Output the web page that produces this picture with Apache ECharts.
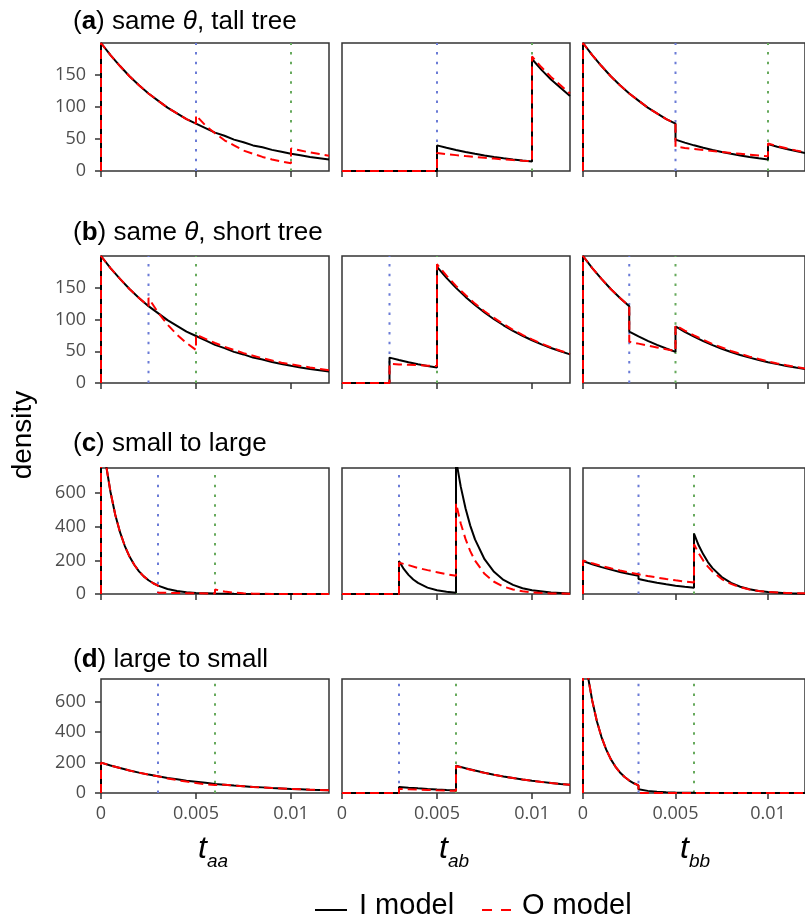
<!DOCTYPE html>
<html lang="en">
<head>
  <meta charset="UTF-8">
  <title>Density panels</title>
  <script src="https://cdn.jsdelivr.net/npm/echarts@6/dist/echarts.min.js"></script>
  <style>
    body { margin: 0; background: #fff; }
    #chart { width: 805px; height: 923px; }
  </style>
</head>
<body>
  <div id="chart"></div>
  <script>
    // x ticks, y ticks and vertical marker positions per row
    const xTicks = [0, 0.005, 0.01];
    const yTicksAB = [0, 50, 100, 150];
    const yTicksCD = [0, 200, 400, 600];
    const yMax = [200, 200, 750, 750];
    const blueLines = [0.005, 0.0025, 0.003, 0.003];
    const greenLines = [0.01, 0.005, 0.006, 0.006];

    const rowTitles = [
      '({b|a}) same {i|θ}, tall tree',
      '({b|b}) same {i|θ}, short tree',
      '({b|c}) small to large',
      '({b|d}) large to small'
    ];
    const colSubs = ['aa', 'ab', 'bb'];
    const legendNames = ['I model', 'O model'];

    // (a) same theta, tall tree
    const a_aa_I = [[0,0],[0,200],[0.0005,181],[0.001,164],[0.0015,148],[0.002,134],[0.0025,121],[0.003,110],[0.0035,99],[0.004,90],[0.0045,81],[0.005,74],[0.0055,67],[0.006,60],[0.0065,55],[0.007,49],[0.0075,45],[0.008,40],[0.0085,37],[0.009,33],[0.0095,30],[0.01,27],[0.0105,24.5],[0.011,22],[0.0115,20],[0.012,18]];
    const a_aa_O = [[0,0],[0,200],[0.0005,181],[0.001,164],[0.0015,148],[0.002,134],[0.0025,121],[0.003,110],[0.0035,99],[0.004,90],[0.0045,81],[0.005,74],[0.005,87],[0.0055,71],[0.006,59],[0.0065,48],[0.007,40],[0.0075,32],[0.008,27],[0.0085,22],[0.009,18],[0.0095,15],[0.01,12],[0.01,35],[0.0105,32],[0.011,29],[0.0115,26.5],[0.012,24]];
    const a_ab_I = [[0,0],[0.005,0],[0.005,40],[0.0055,36.2],[0.006,32.7],[0.0065,29.6],[0.007,26.8],[0.0075,24.3],[0.008,22],[0.0085,19.9],[0.009,18],[0.0095,16.3],[0.01,14.7],[0.01,175],[0.0105,158],[0.011,143],[0.0115,130],[0.012,117]];
    const a_ab_O = [[0,0],[0.005,0],[0.005,28],[0.0055,26.3],[0.006,24.8],[0.0065,23.3],[0.007,21.9],[0.0075,20.6],[0.008,19.4],[0.0085,18.2],[0.009,17.1],[0.0095,16.1],[0.01,15.2],[0.01,179],[0.0105,162],[0.011,147],[0.0115,134],[0.012,121]];
    const a_bb_I = [[0,0],[0,200],[0.0005,181],[0.001,164],[0.0015,148],[0.002,134],[0.0025,121],[0.003,110],[0.0035,99],[0.004,90],[0.0045,81],[0.005,74],[0.005,49],[0.0055,44.3],[0.006,40.1],[0.0065,36.3],[0.007,32.8],[0.0075,29.7],[0.008,26.9],[0.0085,24.3],[0.009,22],[0.0095,19.9],[0.01,18],[0.01,42],[0.0105,38],[0.011,34.4],[0.0115,31.1],[0.012,28.2]];
    const a_bb_O = [[0,0],[0,200],[0.0005,181],[0.001,164],[0.0015,148],[0.002,134],[0.0025,121],[0.003,110],[0.0035,99],[0.004,90],[0.0045,81],[0.005,74],[0.005,38],[0.0055,36.1],[0.006,34.4],[0.0065,32.7],[0.007,31.1],[0.0075,29.6],[0.008,28.1],[0.0085,26.8],[0.009,25.5],[0.0095,24.2],[0.01,23],[0.01,43],[0.0105,39],[0.011,35.5],[0.0115,32.2],[0.012,29.3]];

    // (b) same theta, short tree
    const b_aa_I = [[0,0],[0,200],[0.0005,181],[0.001,164],[0.0015,148],[0.002,134],[0.0025,121],[0.003,110],[0.0035,99],[0.004,90],[0.0045,81],[0.005,74],[0.0055,67],[0.006,60],[0.0065,55],[0.007,49],[0.0075,45],[0.008,40],[0.0085,37],[0.009,33],[0.0095,30],[0.01,27],[0.0105,24.5],[0.011,22],[0.0115,20],[0.012,18]];
    const b_aa_O = [[0,0],[0,200],[0.0005,181],[0.001,164],[0.0015,148],[0.002,134],[0.0025,121],[0.0025,134],[0.003,111],[0.0035,92],[0.004,76],[0.0045,63],[0.005,52],[0.005,76],[0.0055,69.5],[0.006,63],[0.0065,57],[0.007,52],[0.0075,47],[0.008,43],[0.0085,39],[0.009,35.5],[0.0095,32],[0.01,29.5],[0.0105,26.8],[0.011,24.5],[0.0115,22.3],[0.012,20]];
    const b_ab_I = [[0,0],[0.0025,0],[0.0025,40],[0.003,36.2],[0.0035,32.7],[0.004,29.6],[0.0045,26.8],[0.005,24.3],[0.005,183],[0.0055,165.6],[0.006,149.8],[0.0065,135.6],[0.007,122.7],[0.0075,111],[0.008,100.4],[0.0085,90.9],[0.009,82.2],[0.0095,74.4],[0.01,67.3],[0.0105,60.9],[0.011,55.1],[0.0115,49.9],[0.012,45.1]];
    const b_ab_O = [[0,0],[0.0025,0],[0.0025,30],[0.003,29.3],[0.0035,28.7],[0.004,28],[0.0045,27.3],[0.005,26.6],[0.005,187],[0.0055,169],[0.006,153],[0.0065,138.5],[0.007,125],[0.0075,113],[0.008,102.5],[0.0085,92.7],[0.009,83.8],[0.0095,75.8],[0.01,68.6],[0.0105,62],[0.011,56],[0.0115,50.7],[0.012,45.9]];
    const b_bb_I = [[0,0],[0,200],[0.0005,181],[0.001,164],[0.0015,148],[0.002,134],[0.0025,121],[0.0025,81],[0.003,73.3],[0.0035,66.3],[0.004,60],[0.0045,54.3],[0.005,49.1],[0.005,89],[0.0055,80.5],[0.006,72.9],[0.0065,66],[0.007,59.7],[0.0075,54],[0.008,48.9],[0.0085,44.2],[0.009,40],[0.0095,36.2],[0.01,32.8],[0.0105,29.7],[0.011,26.8],[0.0115,24.3],[0.012,22]];
    const b_bb_O = [[0,0],[0,200],[0.0005,181],[0.001,164],[0.0015,148],[0.002,134],[0.0025,121],[0.0025,65],[0.003,62],[0.0035,59],[0.004,56],[0.0045,53],[0.005,50.5],[0.005,91],[0.0055,82.5],[0.006,75],[0.0065,68],[0.007,61.5],[0.0075,56],[0.008,50.5],[0.0085,46],[0.009,41.5],[0.0095,37.7],[0.01,34],[0.0105,30.8],[0.011,28],[0.0115,25.3],[0.012,23]];

    // (c) small to large
    const c_aa_I = [[0,0],[0,1000],[0.00025,779],[0.0005,607],[0.00075,472],[0.001,368],[0.00125,287],[0.0015,223],[0.00175,174],[0.002,135],[0.00225,105],[0.0025,82],[0.00275,64],[0.003,50],[0.0035,30],[0.004,18],[0.0045,11],[0.005,6.7],[0.006,2.5],[0.007,0.9],[0.008,0.3],[0.01,0],[0.012,0]];
    const c_aa_O = [[0,0],[0,1000],[0.00025,779],[0.0005,607],[0.00075,472],[0.001,368],[0.00125,287],[0.0015,223],[0.00175,174],[0.002,135],[0.00225,105],[0.0025,82],[0.00275,64],[0.003,50],[0.003,8],[0.004,6],[0.005,4],[0.006,3],[0.006,27],[0.0065,15],[0.007,8],[0.0075,4],[0.008,2],[0.009,0.5],[0.01,0],[0.012,0]];
    const c_ab_I = [[0,0],[0.003,0],[0.003,197],[0.00325,149],[0.0035,114],[0.00375,86],[0.004,66],[0.0045,38],[0.005,22],[0.0055,13],[0.006,7],[0.006,800],[0.00625,639],[0.0065,510],[0.00675,407],[0.007,325],[0.0075,207],[0.008,132],[0.0085,84],[0.009,54],[0.0095,34],[0.01,22],[0.011,9],[0.012,3.6]];
    const c_ab_O = [[0,0],[0.003,0],[0.003,186],[0.0035,172],[0.004,155],[0.0045,142],[0.005,130],[0.0055,118],[0.006,108],[0.006,540],[0.00625,420],[0.0065,328],[0.00675,255],[0.007,199],[0.0075,120],[0.008,73],[0.0085,44],[0.009,27],[0.0095,16],[0.01,10],[0.011,3.6],[0.012,1.3]];
    const c_bb_I = [[0,0],[0,196],[0.0005,177],[0.001,160],[0.0015,145],[0.002,131],[0.0025,119],[0.003,108],[0.003,89],[0.0035,77],[0.004,66.5],[0.0045,57.5],[0.005,49.5],[0.0055,43],[0.006,37],[0.006,360],[0.00625,290],[0.0065,236],[0.00675,190],[0.007,154],[0.0075,101],[0.008,66],[0.0085,43],[0.009,28],[0.0095,18],[0.01,12],[0.011,5],[0.012,2]];
    const c_bb_O = [[0,0],[0,200],[0.0005,183],[0.001,167],[0.0015,153],[0.002,140],[0.0025,128],[0.003,117],[0.0035,107],[0.004,98],[0.0045,89],[0.005,81.5],[0.0055,74.5],[0.006,68],[0.006,296],[0.00625,243],[0.0065,199],[0.00675,163],[0.007,133],[0.0075,89],[0.008,60],[0.0085,40],[0.009,27],[0.0095,18],[0.01,12],[0.011,6],[0.012,4]];

    // (d) large to small
    const d_aa_I = [[0,0],[0,200],[0.0005,181],[0.001,164],[0.0015,148],[0.002,134],[0.0025,121],[0.003,110],[0.0035,99],[0.004,90],[0.0045,81],[0.005,74],[0.0055,67],[0.006,60],[0.0065,55],[0.007,49],[0.0075,45],[0.008,40],[0.0085,37],[0.009,33],[0.0095,30],[0.01,27],[0.0105,24.5],[0.011,22],[0.0115,20],[0.012,18]];
    const d_aa_O = [[0,0],[0,200],[0.0005,181],[0.001,164],[0.0015,148],[0.002,134],[0.0025,121],[0.003,110],[0.0035,96],[0.004,85],[0.0045,75],[0.005,66],[0.0055,58],[0.006,52],[0.006,60],[0.0065,55],[0.007,49],[0.0075,45],[0.008,40],[0.0085,37],[0.009,33],[0.0095,30],[0.01,27],[0.0105,24.5],[0.011,22],[0.0115,20],[0.012,18]];
    const d_ab_I = [[0,0],[0.003,0],[0.003,40],[0.0035,35],[0.004,30.6],[0.0045,26.8],[0.005,23.5],[0.0055,20.5],[0.006,18],[0.006,180],[0.0065,162.9],[0.007,147.4],[0.0075,133.4],[0.008,120.7],[0.0085,109.2],[0.009,98.8],[0.0095,89.4],[0.01,80.9],[0.0105,73.2],[0.011,66.2],[0.0115,59.9],[0.012,54.2]];
    const d_ab_O = [[0,0],[0.003,0],[0.003,28],[0.0035,25],[0.004,22.2],[0.0045,19.8],[0.005,17.6],[0.0055,15.7],[0.006,14],[0.006,178],[0.0065,161.5],[0.007,146],[0.0075,132.3],[0.008,119.7],[0.0085,108.3],[0.009,98],[0.0095,88.7],[0.01,80.3],[0.0105,72.6],[0.011,65.7],[0.0115,59.5],[0.012,53.8]];
    const d_bb_I = [[0,0],[0,1000],[0.00025,779],[0.0005,607],[0.00075,472],[0.001,368],[0.00125,287],[0.0015,223],[0.00175,174],[0.002,135],[0.00225,105],[0.0025,82],[0.00275,64],[0.003,50],[0.003,24],[0.0035,14],[0.004,8],[0.0045,5],[0.005,3],[0.006,1],[0.008,0],[0.012,0]];
    const d_bb_O = [[0,0],[0,1000],[0.00025,779],[0.0005,607],[0.00075,472],[0.001,368],[0.00125,287],[0.0015,223],[0.00175,174],[0.002,135],[0.00225,105],[0.0025,82],[0.00275,64],[0.003,50],[0.003,0],[0.006,0],[0.006,2],[0.0065,0.5],[0.012,0]];

    const panelData = [
      [[a_aa_I, a_aa_O], [a_ab_I, a_ab_O], [a_bb_I, a_bb_O]],
      [[b_aa_I, b_aa_O], [b_ab_I, b_ab_O], [b_bb_I, b_bb_O]],
      [[c_aa_I, c_aa_O], [c_ab_I, c_ab_O], [c_bb_I, c_bb_O]],
      [[d_aa_I, d_aa_O], [d_ab_I, d_ab_O], [d_bb_I, d_bb_O]]
    ];

    // layout (px)
    const colLeft = [101, 342, 583];
    const colW = 228;
    const rowTop = [43, 256, 468, 679];
    const rowH = [128, 127, 126, 114];
    const titleY = [22, 233, 444, 660];

    const tickFont = 'Open Sans';
    const textFont = 'Liberation Sans';
    const blue = '#6a7bd6', green = '#66a95c';

    const grids = [], xAxes = [], yAxes = [], series = [], graphics = [];

    function vline(k, x, top, color) {
      return {
        type: 'line', xAxisIndex: k, yAxisIndex: k, z: 1, silent: true,
        data: [[x, 0], [x, top]], showSymbol: false, symbol: 'none', clip: true,
        lineStyle: { color: color, width: 2, type: [2.5, 7.2] }
      };
    }

    for (let r = 0; r < 4; r++) {
      for (let c = 0; c < 3; c++) {
        const k = grids.length;
        grids.push({
          left: colLeft[c], top: rowTop[r], width: colW, height: rowH[r],
          show: true, borderColor: '#333', borderWidth: 1.5, backgroundColor: 'transparent'
        });
        xAxes.push({
          type: 'value', gridIndex: k, min: 0, max: 0.012,
          axisLine: { show: false },
          splitLine: { show: false },
          axisTick: { show: true, length: 6, customValues: xTicks, lineStyle: { color: '#333', width: 1.5 } },
          axisLabel: {
            show: r === 3, customValues: xTicks, margin: 12,
            color: '#4d4d4d', fontSize: 18, fontFamily: tickFont
          }
        });
        const yt = r < 2 ? yTicksAB : yTicksCD;
        yAxes.push({
          type: 'value', gridIndex: k, min: 0, max: yMax[r],
          axisLine: { show: false },
          splitLine: { show: false },
          axisTick: { show: c === 0, length: 6, customValues: yt, lineStyle: { color: '#333', width: 1.5 } },
          axisLabel: {
            show: c === 0, customValues: yt, margin: 15,
            color: '#4d4d4d', fontSize: 18, fontFamily: tickFont
          }
        });
        // vertical dotted reference lines
        series.push(vline(k, blueLines[r], yMax[r], blue));
        series.push(vline(k, greenLines[r], yMax[r], green));

        const [iData, oData] = panelData[r][c];
        series.push({
          name: legendNames[0], type: 'line', xAxisIndex: k, yAxisIndex: k, data: iData,
          showSymbol: false, symbol: 'none', z: 2, clip: true,
          lineStyle: { color: '#000', width: 2 }
        });
        series.push({
          name: legendNames[1], type: 'line', xAxisIndex: k, yAxisIndex: k, data: oData,
          showSymbol: false, symbol: 'none', z: 3, clip: true,
          lineStyle: { color: '#ff0000', width: 2, type: [9, 5] }
        });
      }
      graphics.push({
        type: 'text', x: 73, y: titleY[r],
        style: {
          text: rowTitles[r], fill: '#000', verticalAlign: 'middle',
          font: '26px "' + textFont + '"',
          rich: {
            b: { fontWeight: 'bold', fontSize: 26, fontFamily: textFont, fill: '#000' },
            i: { fontStyle: 'italic', fontSize: 26, fontFamily: textFont, fill: '#000' }
          }
        }
      });
    }

    // x axis titles: t with italic subscript
    for (let c = 0; c < 3; c++) {
      const cx = colLeft[c] + colW / 2;
      graphics.push({
        type: 'text', x: cx - 17, y: 849,
        style: { text: 't', font: 'italic 32px "' + textFont + '"', fill: '#000', verticalAlign: 'middle' }
      });
      graphics.push({
        type: 'text', x: cx - 8, y: 862,
        style: { text: colSubs[c], font: 'italic 19px "' + textFont + '"', fill: '#000', verticalAlign: 'middle' }
      });
    }

    graphics.push({
      type: 'text', x: 23, y: 435, rotation: Math.PI / 2,
      style: { text: 'density', font: '28px "' + textFont + '"', fill: '#000', align: 'center', verticalAlign: 'middle' }
    });

    // legend keys drawn as plain shapes
    graphics.push({ type: 'line', shape: { x1: 315, y1: 910, x2: 347, y2: 910 }, style: { stroke: '#000', lineWidth: 2 } });
    graphics.push({ type: 'text', x: 359, y: 906, style: { text: legendNames[0], font: '29px "' + textFont + '"', fill: '#000', verticalAlign: 'middle' } });
    graphics.push({ type: 'line', shape: { x1: 482, y1: 910, x2: 511, y2: 910 }, style: { stroke: '#ff0000', lineWidth: 2, lineDash: [10, 9] } });
    graphics.push({ type: 'text', x: 522, y: 906, style: { text: legendNames[1], font: '29px "' + textFont + '"', fill: '#000', verticalAlign: 'middle' } });

    const chart = echarts.init(document.getElementById('chart'));
    chart.setOption({
      animation: false,
      grid: grids,
      xAxis: xAxes,
      yAxis: yAxes,
      series: series,
      graphic: graphics
    });
  </script>
</body>
</html>
